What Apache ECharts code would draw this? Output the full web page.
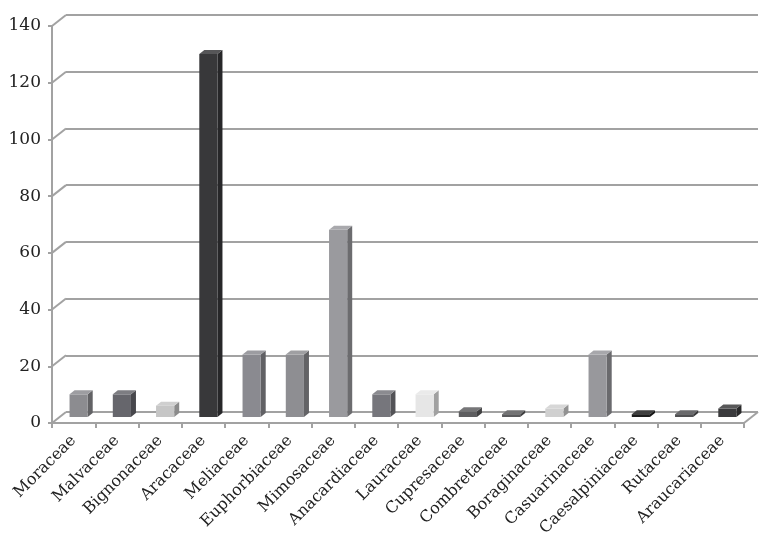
<!DOCTYPE html>
<html><head><meta charset="utf-8">
<script src="https://cdn.jsdelivr.net/npm/echarts@6/dist/echarts.min.js"></script>
<style>html,body{margin:0;padding:0;background:#fff}#c{width:763px;height:546px}</style>
</head><body><div id="c"></div>
<script>
var categories = ['Moraceae','Malvaceae','Bignonaceae','Aracaceae','Meliaceae','Euphorbiaceae','Mimosaceae','Anacardiaceae','Lauraceae','Cupresaceae','Combretaceae','Boraginaceae','Casuarinaceae','Caesalpiniaceae','Rutaceae','Araucariaceae'];
var counts = [8, 8, 4, 128, 22, 22, 66, 8, 8, 2, 1, 3, 22, 1, 1, 3];
var barColors = ['#8c8c90','#66666c','#c6c6c6','#38383a','#8a8a90','#8e8e92','#9a9a9e','#76767c','#e6e6e6','#5e5e60','#5a5a5c','#d0d0d0','#98989c','#1c1c1c','#505052','#3a3a3c'];
var yTicks = [0, 20, 40, 60, 80, 100, 120, 140];

function shade(hex, f) {
  var n = parseInt(hex.slice(1), 16);
  var r = (n >> 16) & 255, g = (n >> 8) & 255, b = n & 255;
  function s(c){ return Math.max(0, Math.min(255, Math.round(f < 0 ? c * (1 + f) : c + (255 - c) * f))); }
  return 'rgb(' + s(r) + ',' + s(g) + ',' + s(b) + ')';
}

var DX = 14, DY = -11; // depth offset of back wall
var chart = echarts.init(document.getElementById('c'), null, {renderer: 'canvas'});
var gridCol = '#a2a2a2';
var font = 'DejaVu Serif';

chart.setOption({
  animation: false,
  backgroundColor: '#ffffff',
  grid: [
    {left: 52, right: 19, top: 26, bottom: 123},
    {left: 66, right: 5, top: 15, bottom: 134}
  ],
  xAxis: [
    {type: 'category', gridIndex: 0, data: categories,
     axisLine: {lineStyle: {color: gridCol, width: 2}},
     axisTick: {show: true, interval: 0, length: 5, lineStyle: {color: gridCol, width: 2}},
     axisLabel: {interval: 0, rotate: 45, margin: 15, fontFamily: font, fontSize: 16, color: '#222'}},
    {type: 'category', gridIndex: 1, data: categories, show: false}
  ],
  yAxis: [
    {type: 'value', gridIndex: 0, min: 0, max: 140, interval: 20,
     axisLine: {show: true, lineStyle: {color: gridCol, width: 2}},
     axisTick: {show: true, length: 4, lineStyle: {color: gridCol, width: 2}},
     splitLine: {show: false},
     axisLabel: {margin: 11, fontFamily: font, fontSize: 17, color: '#222'}},
    {type: 'value', gridIndex: 1, min: 0, max: 140, interval: 20,
     axisLine: {show: false}, axisTick: {show: false}, axisLabel: {show: false},
     splitLine: {show: true, lineStyle: {color: gridCol, width: 2}}}
  ],
  series: [
    {
      type: 'custom', xAxisIndex: 0, yAxisIndex: 0, silent: true, z: 1,
      data: [[0]],
      renderItem: function (params, api) {
        var children = [];
        var half = api.size([1, 0])[0] / 2;
        for (var i = 0; i < yTicks.length; i++) {
          var p = api.coord([0, yTicks[i]]);
          var x = p[0] - half;
          children.push({type: 'line', shape: {x1: x, y1: p[1], x2: x + DX, y2: p[1] + DY},
            style: {stroke: gridCol, lineWidth: 2}});
        }
        var q = api.coord([categories.length - 1, 0]);
        var xr = q[0] + half;
        children.push({type: 'line', shape: {x1: xr, y1: q[1], x2: xr + DX, y2: q[1] + DY},
          style: {stroke: gridCol, lineWidth: 2}});
        return {type: 'group', children: children};
      }
    },
    {
      type: 'custom', xAxisIndex: 0, yAxisIndex: 0, silent: true, z: 5,
      data: counts.map(function (v, i) { return [i, v]; }),
      renderItem: function (params, api) {
        var idx = api.value(0), v = api.value(1);
        var base = api.coord([idx, 0]);
        var top = api.coord([idx, v]);
        var bw = api.size([1, 0])[0] * 0.42;
        var ox = 5, oy = -6, dx = 5, dy = -4;
        var x0 = base[0] - bw / 2 + ox, x1 = x0 + bw;
        var yb = base[1] + oy, yt = top[1] + oy;
        var c = barColors[idx];
        return {type: 'group', children: [
          {type: 'polygon', shape: {points: [[x1, yb], [x1 + dx, yb + dy], [x1 + dx, yt + dy], [x1, yt]]},
           style: {fill: shade(c, -0.3)}},
          {type: 'rect', shape: {x: x0, y: yt, width: bw, height: yb - yt},
           style: {fill: c}},
          {type: 'polygon', shape: {points: [[x0, yt], [x1, yt], [x1 + dx, yt + dy], [x0 + dx, yt + dy]]},
           style: {fill: shade(c, 0.15)}}
        ]};
      }
    }
  ]
});
</script></body></html>
